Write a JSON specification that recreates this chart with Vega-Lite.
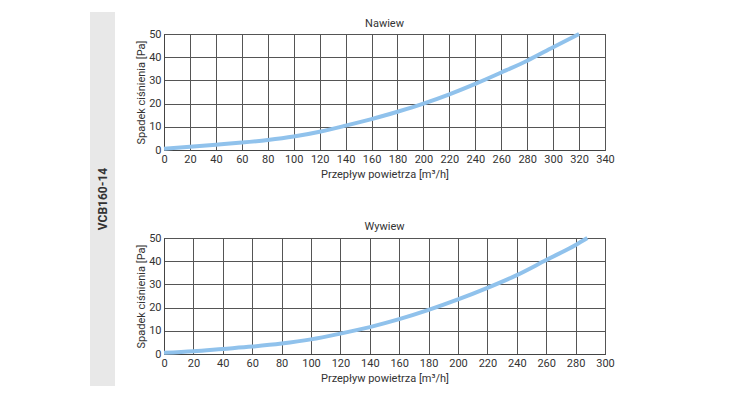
{
  "$schema": "https://vega.github.io/schema/vega-lite/v6.json",
  "padding": {"left": 90, "top": 12, "right": 5, "bottom": 5},
  "background": "white",
  "datasets": {
    "nawiew": [
      {"q": 0, "p": 0.5}, {"q": 20, "p": 1.4}, {"q": 40, "p": 2.3}, {"q": 60, "p": 3.2},
      {"q": 80, "p": 4.3}, {"q": 100, "p": 5.8}, {"q": 120, "p": 7.9}, {"q": 140, "p": 10.5},
      {"q": 160, "p": 13.3}, {"q": 180, "p": 16.5}, {"q": 200, "p": 20}, {"q": 220, "p": 24},
      {"q": 240, "p": 28.5}, {"q": 260, "p": 33.4}, {"q": 280, "p": 38.5}, {"q": 300, "p": 44.3},
      {"q": 320, "p": 50}
    ],
    "wywiew": [
      {"q": 0, "p": 0.5}, {"q": 20, "p": 1.2}, {"q": 40, "p": 2.2}, {"q": 60, "p": 3.2},
      {"q": 80, "p": 4.5}, {"q": 100, "p": 6.3}, {"q": 120, "p": 8.8}, {"q": 140, "p": 11.6},
      {"q": 160, "p": 15}, {"q": 180, "p": 19}, {"q": 200, "p": 23.5}, {"q": 220, "p": 28.5},
      {"q": 240, "p": 34}, {"q": 260, "p": 40.5}, {"q": 280, "p": 47}, {"q": 288, "p": 50}
    ],
    "band": [{"label": "VCB160-14"}],
    "t1": [{"label": "Nawiew"}],
    "t2": [{"label": "Wywiew"}]
  },
  "config": {
    "font": "Roboto",
    "view": {"stroke": "#444", "strokeWidth": 1},
    "axis": {
      "gridColor": "#555", "gridOpacity": 1, "gridWidth": 1,
      "domainColor": "#444", "tickSize": 0, "labelPadding": 3, "labelOverlap": false,
      "labelFlush": false,
      "labelFontSize": 11, "labelColor": "#333", "titleFontSize": 11, "titlePadding": 2,
      "titleFontWeight": "normal", "titleColor": "#333"
    },
    "axisX": {"titlePadding": 4}
  },
  "spacing": 20,
  "hconcat": [
    {
      "width": 25, "height": 374,
      "view": {"fill": "#e8e8e8", "stroke": null},
      "data": {"name": "band"},
      "mark": {"type": "text", "angle": 270, "fontSize": 12, "fontWeight": "bold", "color": "#333"},
      "encoding": {"text": {"field": "label"}}
    },
    {
      "spacing": 0,
      "bounds": "flush",
      "vconcat": [
        {
          "width": 441, "height": 22,
          "view": {"stroke": null},
          "data": {"name": "t1"},
          "mark": {"type": "text", "fontSize": 11, "color": "#333", "dy": 1},
          "encoding": {"text": {"field": "label"}}
        },
        {
          "width": 441, "height": 116,
          "data": {"name": "nawiew"},
          "mark": {"type": "line", "color": "#90c2ec", "strokeWidth": 4, "interpolate": "monotone"},
          "encoding": {
            "x": {"field": "q", "type": "quantitative", "title": "Przepływ powietrza [m³/h]",
                  "scale": {"domain": [0, 340], "nice": false},
                  "axis": {"values": [0,20,40,60,80,100,120,140,160,180,200,220,240,260,280,300,320,340]}},
            "y": {"field": "p", "type": "quantitative", "title": "Spadek ciśnienia [Pa]",
                  "scale": {"domain": [0, 50], "nice": false},
                  "axis": {"values": [0,10,20,30,40,50]}}
          }
        },
        {
          "width": 441, "height": 88,
          "view": {"stroke": null},
          "data": {"name": "t2"},
          "mark": {"type": "text", "fontSize": 11, "color": "#333", "dy": 33},
          "encoding": {"text": {"field": "label"}}
        },
        {
          "width": 441, "height": 116,
          "data": {"name": "wywiew"},
          "mark": {"type": "line", "color": "#90c2ec", "strokeWidth": 4, "interpolate": "monotone"},
          "encoding": {
            "x": {"field": "q", "type": "quantitative", "title": "Przepływ powietrza [m³/h]",
                  "scale": {"domain": [0, 300], "nice": false},
                  "axis": {"values": [0,20,40,60,80,100,120,140,160,180,200,220,240,260,280,300]}},
            "y": {"field": "p", "type": "quantitative", "title": "Spadek ciśnienia [Pa]",
                  "scale": {"domain": [0, 50], "nice": false},
                  "axis": {"values": [0,10,20,30,40,50]}}
          }
        }
      ]
    }
  ]
}
